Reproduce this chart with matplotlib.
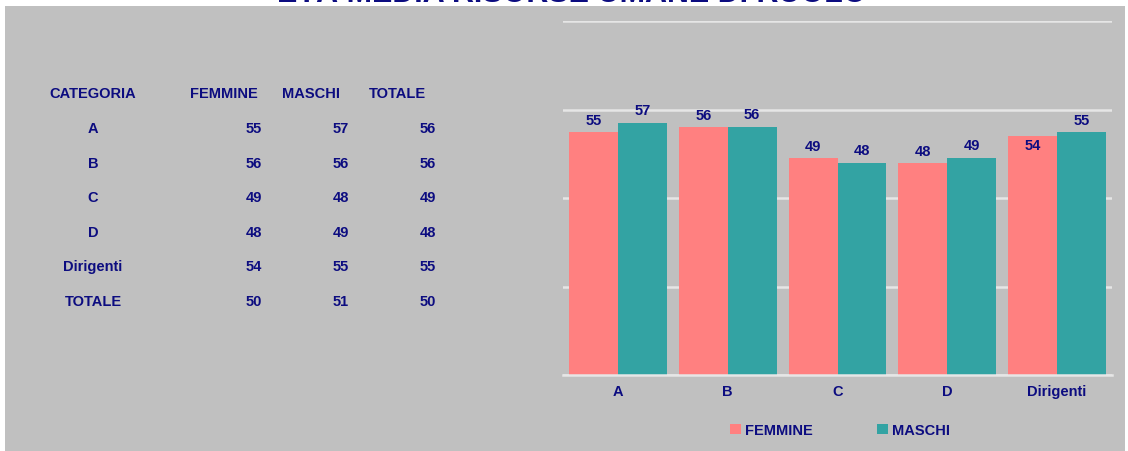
import matplotlib.pyplot as plt
import numpy as np
from matplotlib.patches import Rectangle

plt.rcParams['font.family'] = ['Liberation Sans', 'DejaVu Sans']

# data
categorie = ['A', 'B', 'C', 'D', 'Dirigenti']
femmine = [55, 56, 49, 48, 54]
maschi = [57, 56, 48, 49, 55]
totale = [56, 56, 49, 48, 55]
tab_righe = ['A', 'B', 'C', 'D', 'Dirigenti', 'TOTALE']
tab_femmine = [55, 56, 49, 48, 54, 50]
tab_maschi = [57, 56, 48, 49, 55, 51]
tab_totale = [56, 56, 49, 48, 55, 50]
titolo = "ETÀ MEDIA RISORSE UMANE DI RUOLO"

navy = '#0c0c80'
col_f = '#ff8080'
col_m = '#33a3a3'
grigio = '#c0c0c0'

W, H = 1128, 452
fig = plt.figure(figsize=(W / 100, H / 100), dpi=100, facecolor='white')

def fx(px):
    return px / W

def fy(py):
    return 1 - py / H

# grey background panel
fig.patches.append(Rectangle((fx(5), 0), fx(1120), fy(7), transform=fig.transFigure,
                             facecolor=grigio, edgecolor='none', zorder=-10))

# title, mostly cut off by the top edge as in the original
fig.text(fx(572), fy(1.5), titolo, ha='center', va='baseline', fontsize=22,
         fontweight='bold', color=navy)

# table on the left
fs = 10.5
fig.text(fx(93), fy(94), 'CATEGORIA', ha='center', va='center', fontsize=fs, fontweight='bold', color=navy)
fig.text(fx(224), fy(94), 'FEMMINE', ha='center', va='center', fontsize=fs, fontweight='bold', color=navy)
fig.text(fx(311), fy(94), 'MASCHI', ha='center', va='center', fontsize=fs, fontweight='bold', color=navy)
fig.text(fx(397), fy(94), 'TOTALE', ha='center', va='center', fontsize=fs, fontweight='bold', color=navy)
for i, nome in enumerate(tab_righe):
    y = fy(129 + i * 34.6)
    fig.text(fx(93), y, nome, ha='center', va='center', fontsize=fs, fontweight='bold', color=navy)
    fig.text(fx(262), y, str(tab_femmine[i]), ha='right', va='center', fontsize=fs, fontweight='bold', color=navy)
    fig.text(fx(349), y, str(tab_maschi[i]), ha='right', va='center', fontsize=fs, fontweight='bold', color=navy)
    fig.text(fx(436), y, str(tab_totale[i]), ha='right', va='center', fontsize=fs, fontweight='bold', color=navy)

# bar chart
ax = fig.add_axes([fx(563), fy(376), fx(1112 - 563), fy(22) - fy(376)])
ax.set_facecolor('none')
x = np.arange(len(categorie))
w = 0.445
bf = ax.bar(x - w / 2, femmine, w, color=col_f, label='FEMMINE', zorder=2)
bm = ax.bar(x + w / 2, maschi, w, color=col_m, label='MASCHI', zorder=2)
ax.set_xlim(-0.5, len(categorie) - 0.5)
ax.set_ylim(0, 80)
ax.set_yticks([0, 20, 40, 60, 80])
ax.yaxis.grid(True, color='#e6e6e6', linewidth=1.8, zorder=0)
ax.tick_params(axis='y', left=False, labelleft=False)
ax.tick_params(axis='x', bottom=False, pad=3)
ax.set_xticks(x)
ax.set_xticklabels(categorie, fontsize=fs, fontweight='bold', color=navy)
for s in ['top', 'right', 'left']:
    ax.spines[s].set_visible(False)
ax.spines['bottom'].set_color('#e6e6e6')
ax.spines['bottom'].set_linewidth(1.8)

# value labels (Dirigenti femmine sits inside the bar in the original)
off_f = [2.7, 2.7, 2.7, 2.7, -2.0]
off_m = [2.9, 2.9, 2.9, 2.9, 2.7]
for i in range(len(categorie)):
    ax.text(x[i] - w / 2, femmine[i] + off_f[i], str(femmine[i]), ha='center', va='center',
            fontsize=fs, fontweight='bold', color=navy, zorder=3)
    ax.text(x[i] + w / 2, maschi[i] + off_m[i], str(maschi[i]), ha='center', va='center',
            fontsize=fs, fontweight='bold', color=navy, zorder=3)

fig.legend(handles=[bf, bm], loc='center', bbox_to_anchor=(fx(840), fy(431)), ncol=2,
           frameon=False, handlelength=0.75, handleheight=0.75, handletextpad=0.3,
           columnspacing=4.4, prop={'weight': 'bold', 'size': fs}, labelcolor=navy)

fig.savefig('out.png', dpi=100, facecolor=fig.get_facecolor())
